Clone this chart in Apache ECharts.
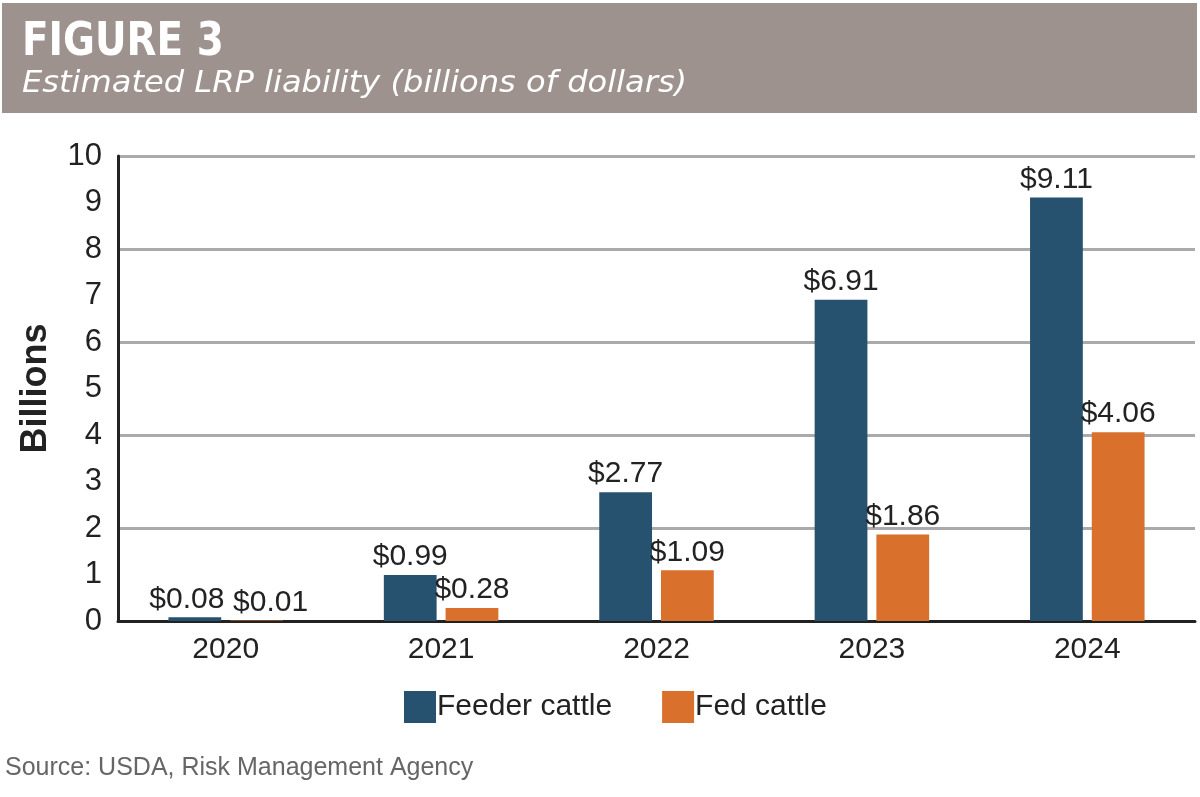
<!DOCTYPE html>
<html><head><meta charset="utf-8">
<script src="https://cdn.jsdelivr.net/npm/echarts@6/dist/echarts.min.js"></script>
<style>html,body{margin:0;padding:0;background:#fff}#c{width:1200px;height:797px}</style>
</head><body><div id="c"></div>
<script>
const categories = ['2020','2021','2022','2023','2024'];
const feederCattle = [0.08, 0.99, 2.77, 6.91, 9.11];
const fedCattle = [0.01, 0.28, 1.09, 1.86, 4.06];
const yTicks = [0,1,2,3,4,5,6,7,8,9,10];

const NARROW = '"Liberation Sans","Arial",sans-serif';
const chart = echarts.init(document.getElementById('c'));
const lbl = {show:true, position:'top', distance:3, fontFamily:NARROW, fontSize:30, color:'#222',
  formatter: p => '$' + p.value.toFixed(2)};
// nudge the crowded first-category labels apart
const withOffsets = (arr, dx) => arr.map((v, i) => i === 0 ? {value:v, label:{offset:[dx,0]}} : v);
chart.setOption({
  animation:false,
  grid:{left:118, right:5, top:156, bottom:176, containLabel:false, outerBoundsMode:'none'},
  legend:{
    data:['Feeder cattle','Fed cattle'], left:399, top:686, itemWidth:32, itemHeight:32, itemGap:50,
    icon:'rect', textStyle:{fontFamily:NARROW, fontSize:30, color:'#222', padding:[0,0,0,-4]}
  },
  xAxis:{type:'category', data:categories,
    axisLine:{lineStyle:{color:'#222', width:3}}, axisTick:{show:false},
    axisLabel:{fontFamily:NARROW, fontSize:30, color:'#222', margin:14}},
  yAxis:[{type:'value', min:0, max:10, interval:1,
    axisLine:{show:true, lineStyle:{color:'#222', width:3}}, axisTick:{show:false},
    splitLine:{show:false},
    axisLabel:{fontFamily:NARROW, fontSize:31, color:'#222', margin:16,
      formatter: v => String(yTicks[Math.round(v)])},
    name:'Billions', nameLocation:'middle', nameGap:64, nameRotate:90,
    nameTextStyle:{fontFamily:NARROW, fontSize:36, fontWeight:'bold', color:'#222'}},
   {type:'value', min:0, max:10, interval:2, position:'left',
    axisLine:{show:false}, axisTick:{show:false}, axisLabel:{show:false},
    splitLine:{show:true, lineStyle:{color:'#aaaaaa', width:3}}}],
  series:[
    {name:'Feeder cattle', type:'bar', data:withOffsets(feederCattle, -8), barWidth:'24.5%', barGap:'17%',
     itemStyle:{color:'#27526f'}, label:lbl, z:3},
    {name:'Fed cattle', type:'bar', data:withOffsets(fedCattle, 14), barWidth:'24.5%', barGap:'17%',
     itemStyle:{color:'#d9702c'}, label:lbl, z:3}
  ],
  graphic:[
    {type:'rect', left:2, top:3, shape:{width:1195, height:110}, style:{fill:'#9d928e'}, z:-1},
    {type:'text', x:22, y:20, scaleX:0.94, style:{text:'FIGURE 3', fill:'#fff',
      font:'bold 46px "DejaVu Sans Condensed","DejaVu Sans",sans-serif'}},
    {type:'text', x:22, y:69, scaleX:1.07, style:{text:'Estimated LRP liability (billions of dollars)', fill:'#fff',
      font:'oblique 30px "DejaVu Sans",sans-serif'}},
    {type:'text', left:5, top:756, style:{text:'Source: USDA, Risk Management Agency', fill:'#666',
      font:'25px "Liberation Sans",Arial,sans-serif'}}
  ]
});
</script></body></html>
